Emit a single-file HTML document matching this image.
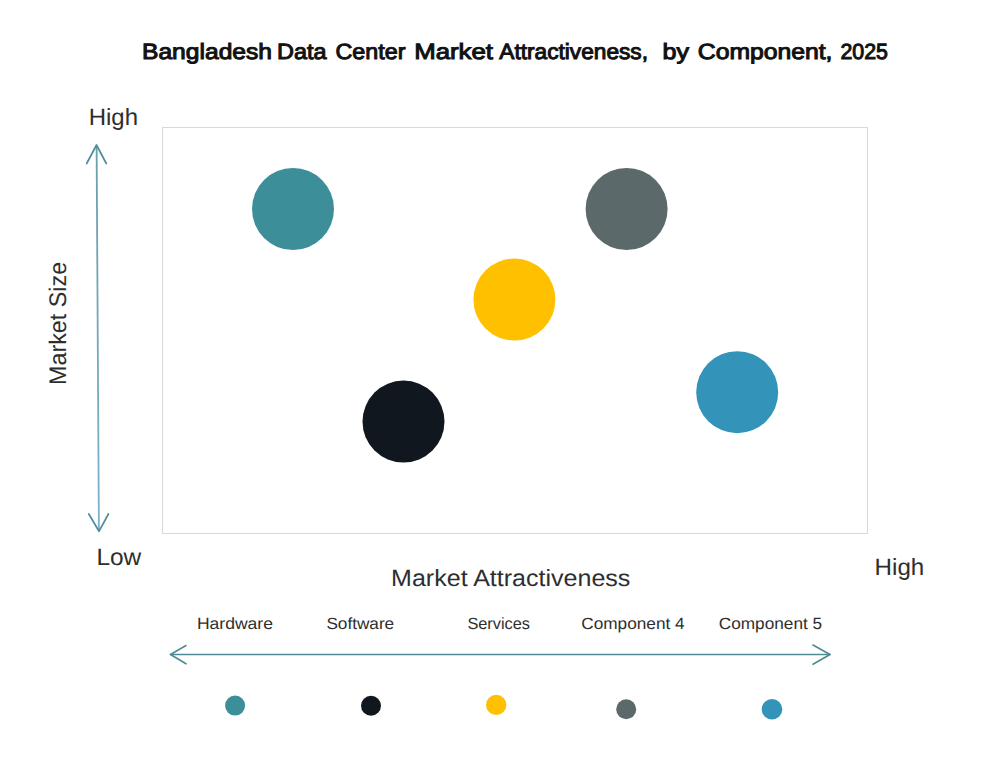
<!DOCTYPE html>
<html><head><meta charset="utf-8">
<style>
html,body{margin:0;padding:0;background:#fff;width:982px;height:766px;overflow:hidden}
svg{display:block}
text{font-family:"Liberation Sans",sans-serif;text-rendering:geometricPrecision}
</style></head>
<body>
<svg width="982" height="766" viewBox="0 0 982 766">
<rect x="0" y="0" width="982" height="766" fill="#fff"/>
<rect x="162.5" y="127.5" width="705" height="406" fill="none" stroke="#d9d9d9" stroke-width="1"/>
<text transform="translate(66.4,385) rotate(-90)" x="0" y="0" font-size="24" fill="#2e2e2e" textLength="123.2" lengthAdjust="spacingAndGlyphs">Market Size</text>
<defs><linearGradient id="vg" gradientUnits="userSpaceOnUse" x1="0" y1="145" x2="0" y2="531"><stop offset="0" stop-color="#6a9faa"/><stop offset="1" stop-color="#7db2ca"/></linearGradient></defs>
<line x1="96.6" y1="146" x2="98.9" y2="530" stroke="url(#vg)" stroke-width="1.8"/>
<g stroke="#508c9b" stroke-width="1.7" fill="none" stroke-linecap="round" stroke-linejoin="round">
<polyline points="86.7,163.5 96.5,145 106.3,163.5"/>
<polyline points="88.8,514 99,531.3 108.4,514"/>
</g>
<circle cx="293" cy="209" r="41" fill="#3c8e98"/>
<circle cx="626.6" cy="209" r="41" fill="#5b696a"/>
<circle cx="514.4" cy="299.6" r="41" fill="#ffc000"/>
<circle cx="403.5" cy="421.6" r="41" fill="#10171f"/>
<circle cx="737.2" cy="392.2" r="41" fill="#3393b8"/>
<g stroke="#508a95" stroke-width="1.6" fill="none" stroke-linecap="round" stroke-linejoin="round">
<line x1="170.5" y1="654.5" x2="830" y2="654.5"/>
<polyline points="186,645.5 170.5,654.5 186,663.8"/>
<polyline points="813,645 830,654.5 813,664.3"/>
</g>
<circle cx="235.1" cy="705.6" r="10" fill="#3c8e98"/>
<circle cx="371" cy="705.8" r="10" fill="#10171f"/>
<circle cx="496.2" cy="704.9" r="10.2" fill="#ffc000"/>
<circle cx="626.2" cy="709.3" r="10" fill="#5b696a"/>
<circle cx="772" cy="709.2" r="10.3" fill="#3393b8"/>
<text x="142.00" y="59.3" font-size="22" fill="#111" stroke="#111" stroke-width="1.0" textLength="130.00" lengthAdjust="spacingAndGlyphs" xml:space="preserve">Bangladesh</text>
<text x="277.00" y="59.3" font-size="22" fill="#111" stroke="#111" stroke-width="1.0" textLength="49.50" lengthAdjust="spacingAndGlyphs" xml:space="preserve">Data</text>
<text x="335.50" y="59.3" font-size="22" fill="#111" stroke="#111" stroke-width="1.0" textLength="69.90" lengthAdjust="spacingAndGlyphs" xml:space="preserve">Center</text>
<text x="414.20" y="59.3" font-size="22" fill="#111" stroke="#111" stroke-width="1.0" textLength="78.80" lengthAdjust="spacingAndGlyphs" xml:space="preserve">Market</text>
<text x="499.30" y="59.3" font-size="22" fill="#111" stroke="#111" stroke-width="1.0" textLength="148.70" lengthAdjust="spacingAndGlyphs" xml:space="preserve">Attractiveness,</text>
<text x="662.50" y="59.3" font-size="22" fill="#111" stroke="#111" stroke-width="1.0" textLength="26.50" lengthAdjust="spacingAndGlyphs" xml:space="preserve">by</text>
<text x="697.80" y="59.3" font-size="22" fill="#111" stroke="#111" stroke-width="1.0" textLength="134.70" lengthAdjust="spacingAndGlyphs" xml:space="preserve">Component,</text>
<text x="840.50" y="59.3" font-size="22" fill="#111" stroke="#111" stroke-width="1.0" textLength="47.50" lengthAdjust="spacingAndGlyphs" xml:space="preserve">2025</text>
<text x="88.70" y="125.3" font-size="23.5" fill="#2e2e2e" textLength="49.30" lengthAdjust="spacingAndGlyphs" xml:space="preserve">High</text>
<text x="96.40" y="565.4" font-size="23.5" fill="#2e2e2e" textLength="44.90" lengthAdjust="spacingAndGlyphs" xml:space="preserve">Low</text>
<text x="874.60" y="575.3" font-size="23.5" fill="#2e2e2e" textLength="49.70" lengthAdjust="spacingAndGlyphs" xml:space="preserve">High</text>
<text x="391.10" y="586.4" font-size="23.5" fill="#2e2e2e" textLength="239.30" lengthAdjust="spacingAndGlyphs" xml:space="preserve">Market Attractiveness</text>
<text x="196.90" y="629.2" font-size="16.3" fill="#2e2e2e" textLength="76.10" lengthAdjust="spacingAndGlyphs" xml:space="preserve">Hardware</text>
<text x="326.40" y="629.2" font-size="16.3" fill="#2e2e2e" textLength="67.80" lengthAdjust="spacingAndGlyphs" xml:space="preserve">Software</text>
<text x="467.40" y="629.2" font-size="16.3" fill="#2e2e2e" textLength="62.60" lengthAdjust="spacingAndGlyphs" xml:space="preserve">Services</text>
<text x="581.30" y="629.2" font-size="16.3" fill="#2e2e2e" textLength="103.30" lengthAdjust="spacingAndGlyphs" xml:space="preserve">Component 4</text>
<text x="718.80" y="629.2" font-size="16.3" fill="#2e2e2e" textLength="103.30" lengthAdjust="spacingAndGlyphs" xml:space="preserve">Component 5</text>
</svg>
</body></html>
